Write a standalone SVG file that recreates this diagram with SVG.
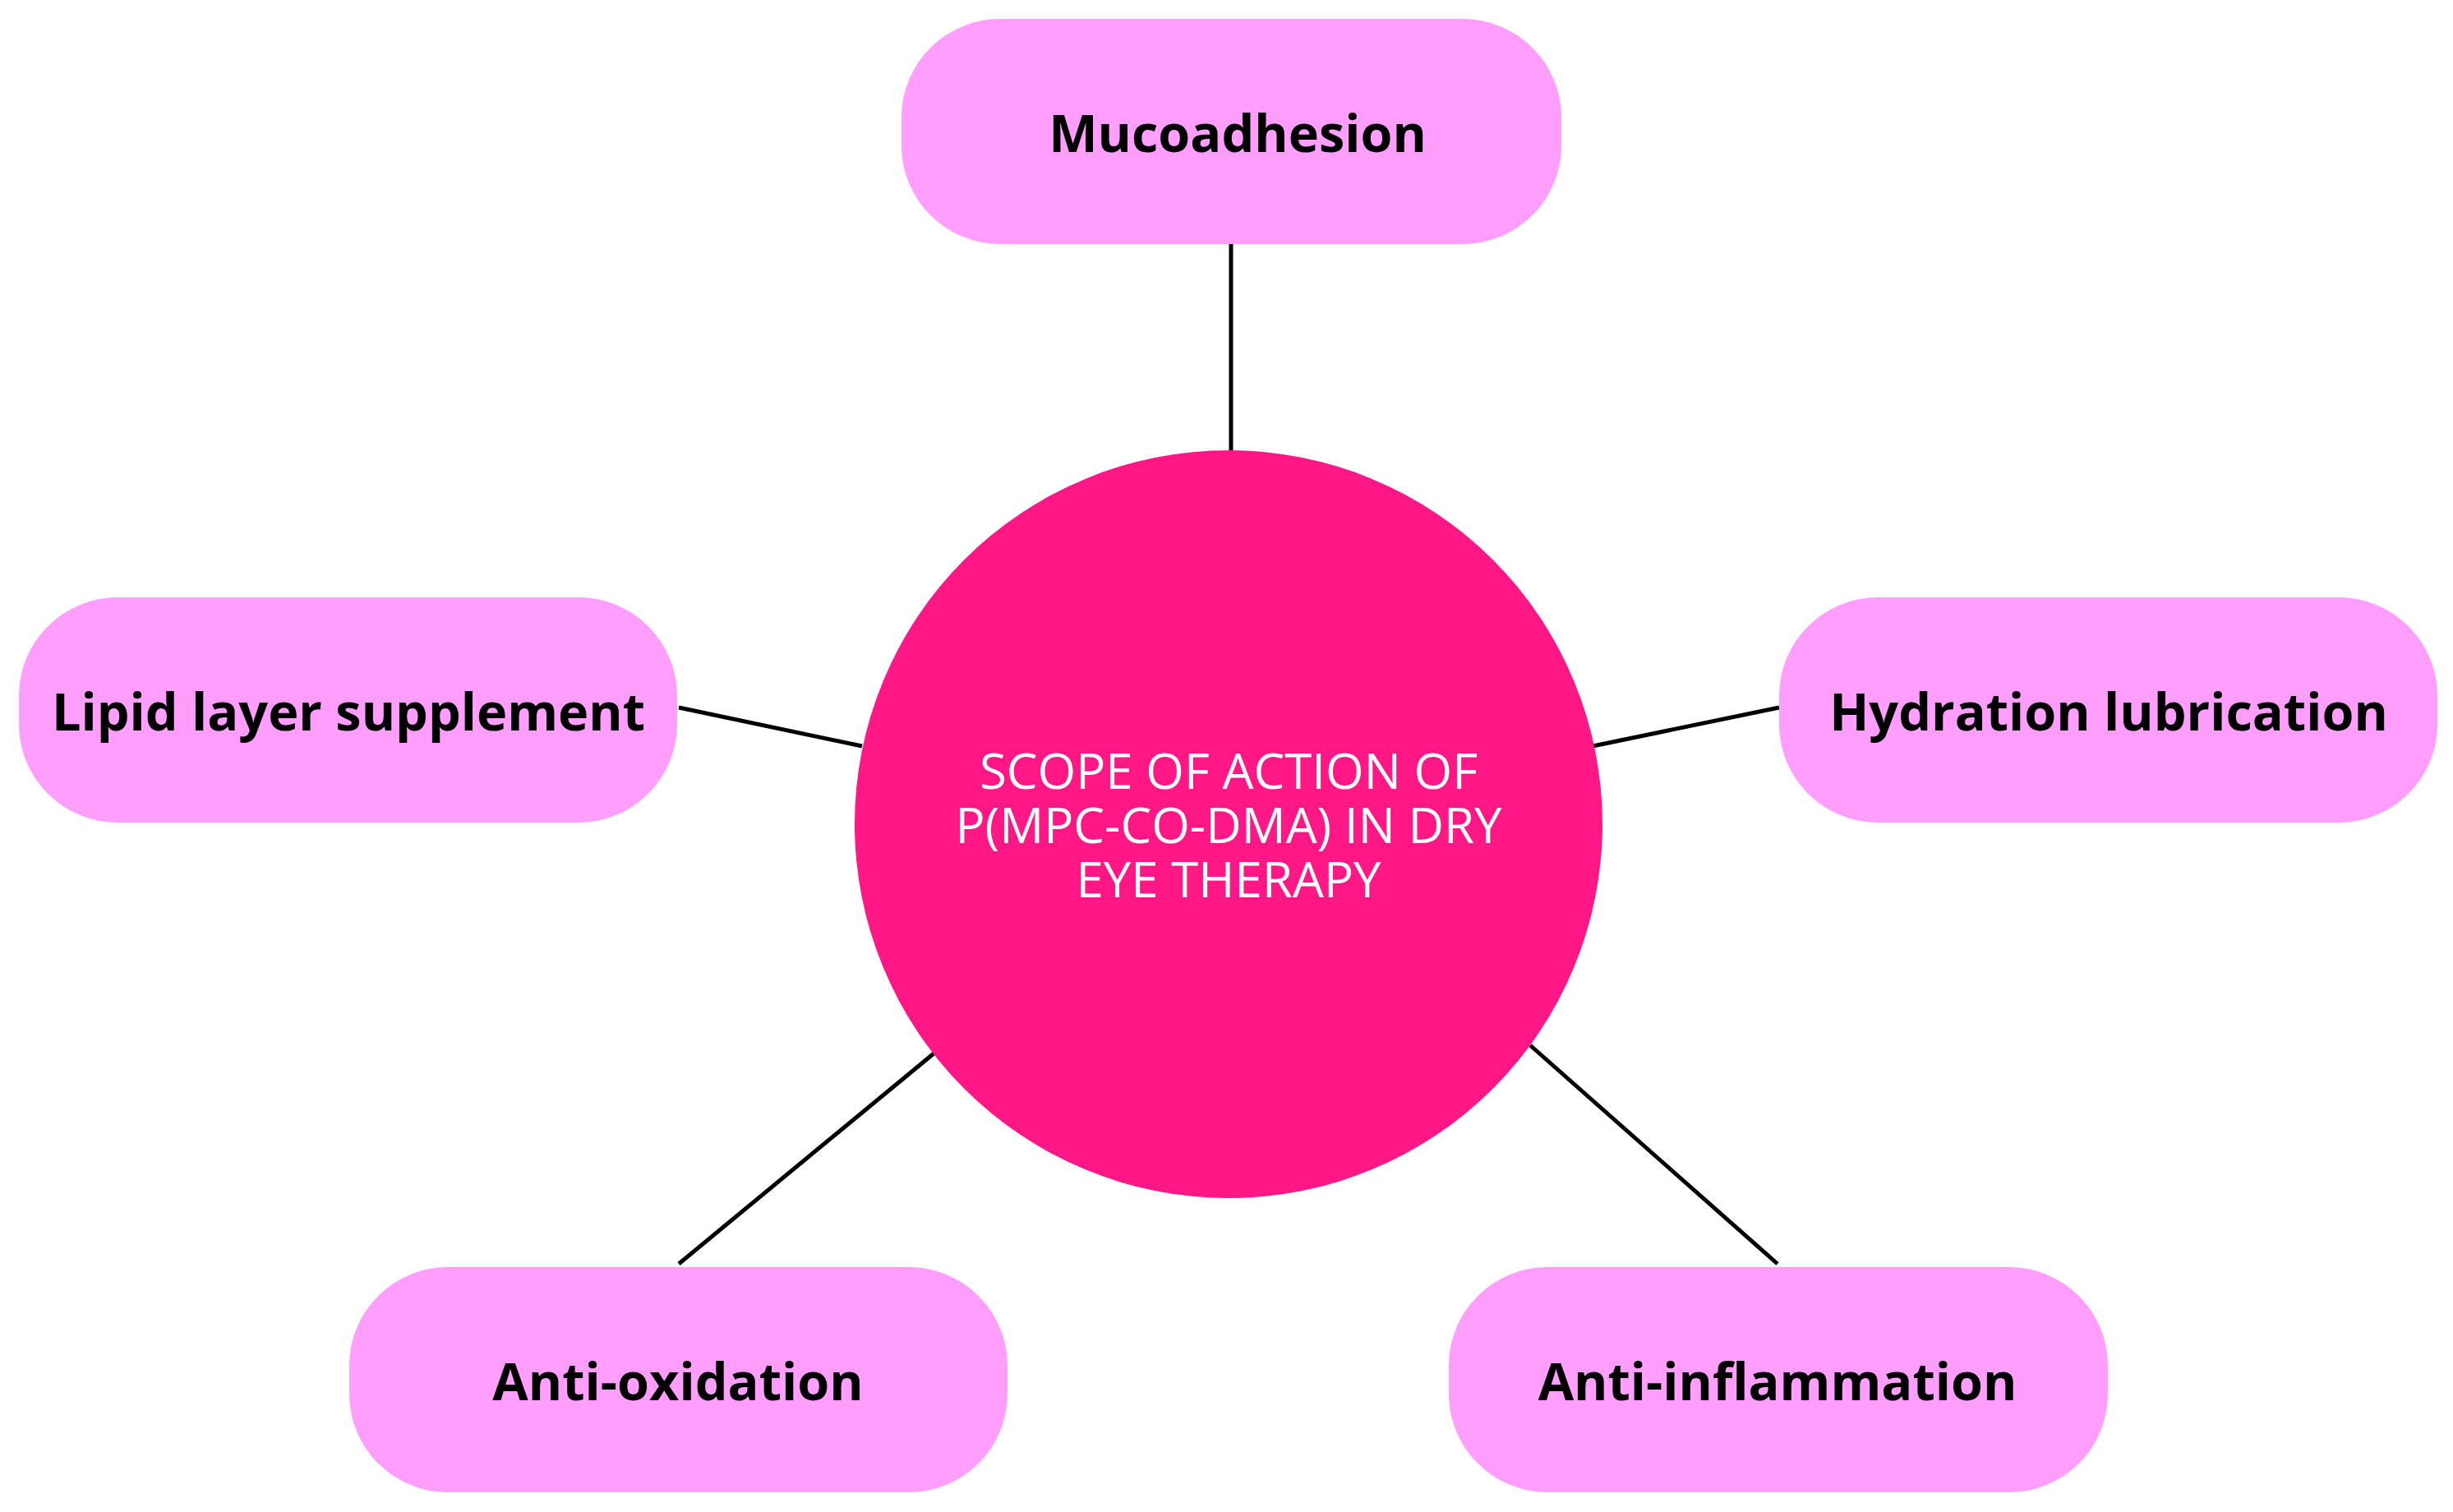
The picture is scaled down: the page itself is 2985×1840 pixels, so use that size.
<svg xmlns="http://www.w3.org/2000/svg" width="2985" height="1840" viewBox="0 0 2985 1840">
<style>
.box{fill:#ff9efd}
.lbl{font-family:"Open Sans","Noto Sans",sans-serif;font-weight:bold;font-size:63px;fill:#000;text-anchor:middle;dominant-baseline:central}
.ctr{font-family:"Open Sans","Noto Sans",sans-serif;font-size:60px;fill:#fff;text-anchor:middle;dominant-baseline:central}
.con line{stroke:#000;stroke-width:5}
</style>
<rect width="2985" height="1840" fill="#fff"/>
<g class="con" id="connectors">
<line x1="1498" y1="297" x2="1498" y2="552"/>
<line x1="826" y1="861" x2="1049" y2="908"/>
<line x1="1938" y1="908" x2="2165" y2="861"/>
<line x1="826" y1="1538" x2="1146" y2="1274"/>
<line x1="1862" y1="1272" x2="2163" y2="1538"/>
</g>
<g id="center"><circle cx="1495" cy="1003" r="455" fill="#ff1786"/>
<text class="ctr" x="1495" y="937">SCOPE OF ACTION OF</text>
<text class="ctr" x="1495" y="1003">P(MPC-CO-DMA) IN DRY</text>
<text class="ctr" x="1495" y="1069">EYE THERAPY</text></g>
<g id="mucoadhesion"><rect class="box" x="1097" y="23" width="803" height="274" rx="120"/><text class="lbl" x="1506" y="160">Mucoadhesion</text></g>
<g id="lipid"><rect class="box" x="23" y="727" width="801" height="274" rx="120"/><text class="lbl" x="424" y="864">Lipid layer supplement</text></g>
<g id="hydration"><rect class="box" x="2165" y="727" width="801" height="274" rx="120"/><text class="lbl" x="2566" y="864">Hydration lubrication</text></g>
<g id="antioxidation"><rect class="box" x="425" y="1542" width="801" height="274" rx="120"/><text class="lbl" x="825" y="1679">Anti-oxidation</text></g>
<g id="antiinflammation"><rect class="box" x="1763" y="1542" width="802" height="274" rx="120"/><text class="lbl" x="2163" y="1679">Anti-inflammation</text></g>
</svg>
